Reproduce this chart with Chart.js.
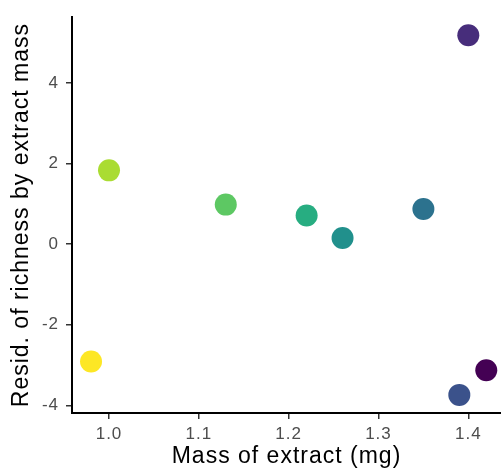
<!DOCTYPE html>
<html>
<head>
<meta charset="utf-8">
<script src="https://cdn.jsdelivr.net/npm/chart.js@4/dist/chart.umd.min.js"></script>
<style>
  html, body { margin: 0; padding: 0; background: #ffffff; }
  #wrap { width: 501px; height: 473px; }
</style>
</head>
<body>
<div id="wrap"><canvas id="chart" width="501" height="473"></canvas></div>
<script>
// Residual richness against extract mass, one point per sample
const massMg = [0.98, 1.00, 1.13, 1.22, 1.26, 1.35, 1.39, 1.40, 1.42];
const residRichness = [-2.91, 1.83, 0.98, 0.71, 0.15, 0.87, -3.74, 5.18, -3.13];
const pointColors = ['#FDE725', '#AADC32', '#5DC863', '#27AD81', '#21908C', '#2C728E', '#3B528B', '#472D7B', '#440154'];

const xTicks = [1.0, 1.1, 1.2, 1.3, 1.4];
const yTicks = [-4, -2, 0, 2, 4];

const xTitle = 'Mass of extract (mg)';
const yTitle = 'Resid. of richness by extract mass';

const points = massMg.map((m, i) => ({ x: m, y: residRichness[i] }));

// slightly wider glyph spacing for all chart text
const spacingPlugin = {
  id: 'textSpacing',
  beforeDraw(chart) { chart.ctx.letterSpacing = '1px'; },
  afterDraw(chart) { chart.ctx.letterSpacing = '0px'; }
};

new Chart(document.getElementById('chart'), {
  type: 'scatter',
  data: {
    datasets: [{
      data: points,
      pointRadius: 11,
      pointHoverRadius: 11,
      pointBorderWidth: 0,
      backgroundColor: pointColors,
      borderColor: pointColors
    }]
  },
  options: {
    responsive: false,
    animation: false,
    events: [],
    layout: { autoPadding: false, padding: { top: 13, right: 0, bottom: 0, left: 0 } },
    plugins: { legend: { display: false }, tooltip: { enabled: false } },
    scales: {
      x: {
        type: 'linear',
        min: 0.9588,
        max: 1.4364,
        afterFit(scale) { scale.height = 60; },
        afterBuildTicks(scale) { scale.ticks = xTicks.map(v => ({ value: v })); },
        border: { display: true, color: '#000000', width: 2 },
        grid: { display: true, drawOnChartArea: false, drawTicks: true, tickLength: 6, color: '#333333', lineWidth: 1.5 },
        ticks: {
          color: '#4D4D4D',
          font: { family: 'Liberation Sans, Arial, sans-serif', size: 17 },
          padding: 5,
          maxRotation: 0,
          callback: v => Number(v).toFixed(1)
        },
        title: {
          display: true,
          text: xTitle,
          color: '#000000',
          font: { family: 'Liberation Sans, Arial, sans-serif', size: 23 },
          padding: { top: 0, bottom: 3 }
        }
      },
      y: {
        type: 'linear',
        min: -4.189,
        max: 5.629,
        afterFit(scale) { scale.width = 72; },
        afterBuildTicks(scale) { scale.ticks = yTicks.map(v => ({ value: v })); },
        border: { display: true, color: '#000000', width: 2 },
        grid: { display: true, drawOnChartArea: false, drawTicks: true, tickLength: 6, color: '#333333', lineWidth: 1.5 },
        ticks: {
          color: '#4D4D4D',
          font: { family: 'Liberation Sans, Arial, sans-serif', size: 17 },
          padding: 7,
          callback: v => String(v)
        },
        title: {
          display: true,
          text: yTitle,
          color: '#000000',
          font: { family: 'Liberation Sans, Arial, sans-serif', size: 23 },
          padding: { top: 8, bottom: 0 }
        }
      }
    }
  },
  plugins: [spacingPlugin]
});
</script>
</body>
</html>
